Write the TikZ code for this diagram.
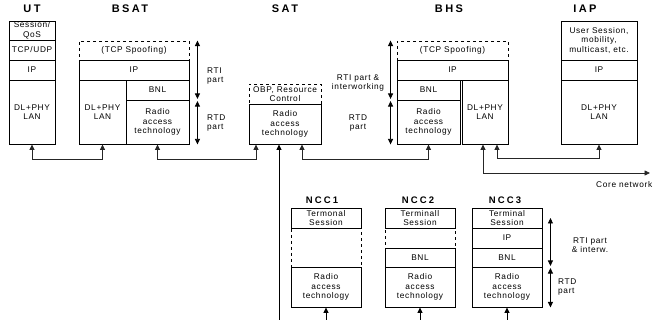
\documentclass[tikz,border=0pt]{standalone}
\usepackage{fontspec}
\usepackage{xcolor}
\usepackage{tikz}
\usetikzlibrary{arrows.meta, positioning}
\newfontfamily\diagfont[LetterSpace=8]{Liberation Sans}
\newfontfamily\headfont[LetterSpace=22]{Liberation Sans}
\tikzset{
  layer/.style={draw=black,line width=0.9pt,inner sep=0pt,align=center,
    font=\diagfont\fontsize{8.3}{9.5}\selectfont},
  voidlayer/.style={layer,dashed},
  hdr/.style={font=\headfont\bfseries\fontsize{11}{12}\selectfont},
  ncchdr/.style={font=\headfont\bfseries\fontsize{9.5}{11}\selectfont},
  partlbl/.style={inner sep=0pt,align=center,font=\diagfont\fontsize{8.3}{9.5}\selectfont},
  link/.style={line width=0.8pt,black!85,{Triangle[length=5.5pt,width=5pt]}-{Triangle[length=5.5pt,width=5pt]}},
  feed/.style={line width=0.8pt,black,-{Triangle[length=5.5pt,width=5pt]}},
  dimarrow/.style={line width=0.8pt,black,{Triangle[length=5.5pt,width=5pt]}-{Triangle[length=5.5pt,width=5pt]}},
}
\begin{document}
\begin{tikzpicture}[x=1pt,y=-1pt]
  \useasboundingbox (0,0) rectangle (666,320);
  % headers
  \node[hdr] (hUT) at (32,9) {UT};
  \node[hdr] (hBSAT) at (130,9) {BSAT};
  \node[hdr] (hSAT) at (285,9) {SAT};
  \node[hdr] (hBHS) at (449,9) {BHS};
  \node[hdr] (hIAP) at (585,9) {IAP};
  \node[ncchdr] (hNCC1) at (322,200) {NCC1};
  \node[ncchdr] (hNCC2) at (418,200) {NCC2};
  \node[ncchdr] (hNCC3) at (505,200) {NCC3};
  % dashed layers first, solid ones drawn over them
  \node[voidlayer,minimum width=110,minimum height=19] (bsspoof) at (134,50.5) {(TCP Spoofing)};
  \node[voidlayer,minimum width=72,minimum height=20] (satobp) at (285,94) {OBP, Resource\\Control};
  \node[voidlayer,minimum width=111,minimum height=19] (bhspoof) at (452.5,50.5) {(TCP Spoofing)};
  \node[voidlayer,minimum width=70,minimum height=39] (n1void) at (326,247.5) {};
  \node[voidlayer,minimum width=70,minimum height=20] (n2void) at (420,238) {};
  % UT
  \node[layer,minimum width=46,minimum height=19] (utsess) at (32,30.5) {Session/\\QoS};
  \node[layer,minimum width=46,minimum height=20] (uttcp) at (32,50) {TCP/UDP};
  \node[layer,minimum width=46,minimum height=20] (utip) at (32,70) {IP};
  \node[layer,minimum width=46,minimum height=64] (utlan) at (32,112) {DL+PHY\\LAN};
  % BSAT
  \node[layer,minimum width=110,minimum height=20] (bsip) at (134,70) {IP};
  \node[layer,minimum width=47,minimum height=64] (bslan) at (102.5,112) {DL+PHY\\LAN};
  \node[layer,minimum width=63,minimum height=20] (bsbnl) at (157.5,90) {BNL};
  \node[layer,minimum width=63,minimum height=44] (bsrat) at (157.5,122) {Radio\\access\\technology};
  % SAT
  \node[layer,minimum width=72,minimum height=40] (satrat) at (285,124) {Radio\\access\\technology};
  % BHS
  \node[layer,minimum width=111,minimum height=20] (bhip) at (452.5,70) {IP};
  \node[layer,minimum width=63,minimum height=20] (bhbnl) at (428.5,90) {BNL};
  \node[layer,minimum width=63,minimum height=44] (bhrat) at (428.5,122) {Radio\\access\\technology};
  \node[layer,minimum width=46,minimum height=64] (bhlan) at (485,112) {DL+PHY\\LAN};
  % IAP
  \node[layer,minimum width=76,minimum height=39] (iapsess) at (599,40.5) {User Session,\\mobility,\\multicast, etc.};
  \node[layer,minimum width=76,minimum height=20] (iapip) at (599,70) {IP};
  \node[layer,minimum width=76,minimum height=64] (iaplan) at (599,112) {DL+PHY\\LAN};
  % NCCs
  \node[layer,minimum width=70,minimum height=20] (n1sess) at (326,218) {Termonal\\Session};
  \node[layer,minimum width=70,minimum height=40] (n1rat) at (326,287) {Radio\\access\\technology};
  \node[layer,minimum width=70,minimum height=20] (n2sess) at (420,218) {Terminall\\Session};
  \node[layer,minimum width=70,minimum height=19] (n2bnl) at (420,257.5) {BNL};
  \node[layer,minimum width=70,minimum height=40] (n2rat) at (420,287) {Radio\\access\\technology};
  \node[layer,minimum width=70,minimum height=20] (n3sess) at (507,218) {Terminal\\Session};
  \node[layer,minimum width=70,minimum height=20] (n3ip) at (507,238) {IP};
  \node[layer,minimum width=70,minimum height=19] (n3bnl) at (507,257.5) {BNL};
  \node[layer,minimum width=70,minimum height=40] (n3rat) at (507,287) {Radio\\access\\technology};
  % part labels
  \node[partlbl,anchor=west,align=left] (bsrti) at (207,76) {RTI\\part};
  \node[partlbl,anchor=west,align=left] (bsrtd) at (207,123) {RTD\\part};
  \node[partlbl] (bhrti) at (358,83) {RTI part \&\\interworking};
  \node[partlbl] (bhrtd) at (358,123) {RTD\\part};
  \node[partlbl] (n3rti) at (590,245) {RTI part\\\& interw.};
  \node[partlbl,anchor=west,align=left] (n3rtd) at (558,287) {RTD\\part};
  \node[partlbl,anchor=west] (corelbl) at (596,185) {Core network};
  \coordinate (satfeed) at (279,320);
  \coordinate (corenet) at (650,173);
  % dimension arrows
  \draw[dimarrow] ([xshift=8]bsspoof.north east) -- ([xshift=8,yshift=1.5]bsbnl.south east);
  \draw[dimarrow] ([xshift=8,yshift=-1.5]bsrat.north east) -- ([xshift=8]bsrat.south east);
  \draw[dimarrow] ([xshift=-6]bhspoof.north west) -- ([xshift=-6,yshift=1.5]bhbnl.south west);
  \draw[dimarrow] ([xshift=-6,yshift=-1.5]bhrat.north west) -- ([xshift=-6]bhrat.south west);
  \draw[dimarrow] ([xshift=8]n3sess.east) -- ([xshift=8,yshift=1.5]n3bnl.south east);
  \draw[dimarrow] ([xshift=8,yshift=-1.5]n3rat.north east) -- ([xshift=8]n3rat.south east);
  % connectors
  \draw[link] (utlan.south) -- ++(0,15) -| (bslan.south);
  \draw[link] (bsrat.south) -- ++(0,15) -| ([xshift=-29]satrat.south);
  \draw[link] ([xshift=17]satrat.south) -- ++(0,15) -| (bhrat.south);
  \draw[link] ([xshift=12]bhlan.south) -- ++(0,14) -| (iaplan.south);
  \draw[link] ([xshift=-2]bhlan.south) |- (corenet);
  \draw[feed] (satfeed) -- ([xshift=-6]satrat.south);
  \draw[feed] (n1rat.south |- satfeed) -- (n1rat.south);
  \draw[feed] (n2rat.south |- satfeed) -- (n2rat.south);
  \draw[feed] (n3rat.south |- satfeed) -- (n3rat.south);
\end{tikzpicture}
\end{document}
